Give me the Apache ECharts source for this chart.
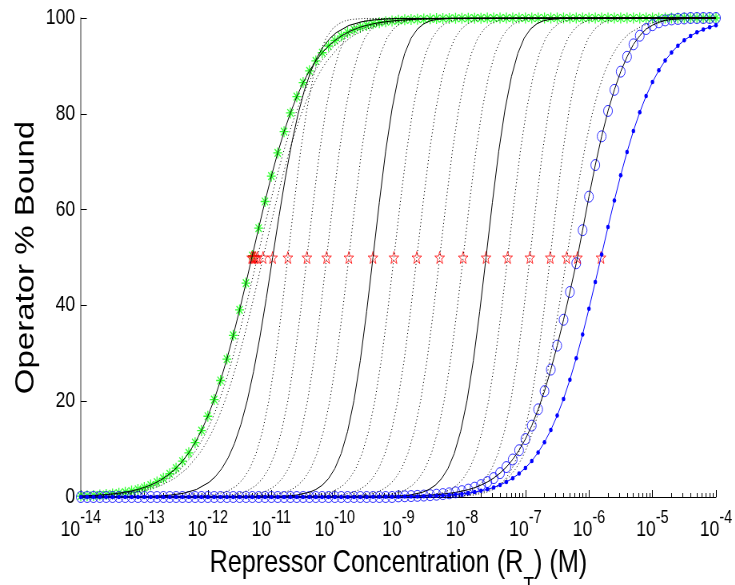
<!DOCTYPE html>
<html><head><meta charset="utf-8">
<script src="https://cdn.jsdelivr.net/npm/echarts@6/dist/echarts.min.js"></script>
<style>
html,body{margin:0;padding:0;overflow:hidden;background:#fff;width:735px;height:585px}
#c{width:919px;height:585px;transform:scaleX(0.8);transform-origin:0 0}
</style>
</head><body><div id="c"></div>
<script>
// log10 of repressor concentration for the marker series (0.1 decade steps)
const gridExp = [-14.0,-13.9,-13.8,-13.7,-13.6,-13.5,-13.4,-13.3,-13.2,-13.1,
-13.0,-12.9,-12.8,-12.7,-12.6,-12.5,-12.4,-12.3,-12.2,-12.1,
-12.0,-11.9,-11.8,-11.7,-11.6,-11.5,-11.4,-11.3,-11.2,-11.1,
-11.0,-10.9,-10.8,-10.7,-10.6,-10.5,-10.4,-10.3,-10.2,-10.1,
-10.0,-9.9,-9.8,-9.7,-9.6,-9.5,-9.4,-9.3,-9.2,-9.1,
-9.0,-8.9,-8.8,-8.7,-8.6,-8.5,-8.4,-8.3,-8.2,-8.1,
-8.0,-7.9,-7.8,-7.7,-7.6,-7.5,-7.4,-7.3,-7.2,-7.1,
-7.0,-6.9,-6.8,-6.7,-6.6,-6.5,-6.4,-6.3,-6.2,-6.1,
-6.0,-5.9,-5.8,-5.7,-5.6,-5.5,-5.4,-5.3,-5.2,-5.1,
-5.0,-4.9,-4.8,-4.7,-4.6,-4.5,-4.4,-4.3,-4.2,-4.1,
-4.0];
// green stars (% bound)
const greenY = [0.20,0.25,0.32,0.40,0.51,0.64,0.80,1.01,1.26,1.58,
1.99,2.49,3.11,3.89,4.85,6.02,7.47,9.22,11.34,13.87,
16.86,20.34,24.32,28.80,33.75,39.06,44.66,50.40,56.12,61.69,
66.98,71.84,76.27,80.18,83.58,86.51,88.97,91.04,92.75,94.15,
95.30,96.23,96.98,97.59,98.08,98.46,98.78,99.03,99.22,99.38,
99.51,99.61,99.69,99.75,99.80,99.84,99.88,99.90,99.92,99.94,
99.95,99.96,99.97,99.97,99.98,99.98,99.99,99.99,99.99,100,
100,100,100,100,100,100,100,100,100,100,
100,100,100,100,100,100,100,100,100,100,
100,100,100,100,100,100,100,100,100,100,
100];
// blue circles
const circleY = [0,0,0,0,0,0,0,0,0,0,
0,0,0,0,0,0,0,0,0,0,
0,0,0,0,0,0,0,0,0,0,
0,0,0,0,0,0,0,0,0,0,
0,0,0,0,0,0,0,0,0,0,
0.12,0.15,0.19,0.24,0.30,0.38,0.48,0.61,0.77,0.97,
1.22,1.54,1.95,2.48,3.13,3.95,4.98,6.25,7.83,9.76,
12.1,14.9,18.3,22.1,26.6,31.6,37.0,42.8,48.8,55.7,
62.7,69.3,75.3,80.6,85.0,88.8,91.9,94.5,96.3,97.7,
98.5,99.1,99.5,99.7,99.8,99.9,100,100,100,100,
100];
// blue dots
const dotsY = [0,0,0,0,0,0,0,0,0,0,
0,0,0,0,0,0,0,0,0,0,
0,0,0,0,0,0,0,0,0,0,
0,0,0,0,0,0,0,0,0,0,
0,0,0,0,0,0.02,0.03,0.03,0.04,0.05,
0.07,0.08,0.10,0.13,0.16,0.20,0.26,0.32,0.41,0.51,
0.64,0.81,1.02,1.28,1.60,2.00,2.51,3.14,3.92,4.89,
6.08,7.53,9.30,11.44,13.99,16.99,20.48,24.49,28.99,33.95,
39.29,44.90,50.63,56.36,61.92,67.17,72.03,76.43,80.33,83.72,
86.62,89.07,91.12,92.81,94.21,95.34,96.26,97.01,97.61,98.09,
98.48];

// % bound values of the black curves (shared by curves of the same steepness)
const shallowY = [0,0.25,0.40,0.63,0.99,1.56,2.45,3.83,5.93,9.09,11.18,13.68,16.63,20.08,24.03,28.47,33.39,38.69,44.27,50,55.73,61.31,66.61,71.53,75.97,79.92,83.37,86.32,88.82,90.91,94.07,96.17,97.55,98.44,99.01,99.37,99.60,99.75,99.87,100];
const mediumY = [0,0.10,0.20,0.40,0.79,1.56,3.07,4.28,5.94,8.18,11.18,15.10,20.08,26.18,33.39,41.44,50,58.56,66.61,73.82,79.92,84.90,88.82,91.82,94.06,95.72,96.93,98.44,99.21,99.60,99.80,99.90,100];
const steepY = [0,0.16,0.40,0.99,1.56,2.45,3.83,5.94,9.09,13.68,20.08,28.47,38.69,50,61.5,72.2,81.0,87.8,92.6,95.8,97.7,98.8,99.4,99.7,99.9,100];

// log10 concentrations of each black curve
const dotA = [-14,-13.82,-13.62,-13.42,-13.22,-13.02,-12.82,-12.62,-12.42,-12.22,-12.12,-12.02,-11.92,-11.82,-11.72,-11.62,-11.52,-11.42,-11.32,-11.22,-11.12,-11.02,-10.92,-10.82,-10.72,-10.62,-10.52,-10.42,-10.32,-10.22,-10.02,-9.82,-9.62,-9.42,-9.22,-9.02,-8.82,-8.62,-8.32,-4];
const dotB = [-14,-13.73,-13.53,-13.33,-13.13,-12.93,-12.73,-12.53,-12.33,-12.13,-12.03,-11.93,-11.83,-11.73,-11.63,-11.53,-11.43,-11.33,-11.23,-11.13,-11.03,-10.93,-10.83,-10.73,-10.63,-10.53,-10.43,-10.33,-10.23,-10.13,-9.93,-9.73,-9.53,-9.33,-9.13,-8.93,-8.73,-8.53,-8.23,-4];
const solidC = [-14,-12.98,-12.78,-12.58,-12.38,-12.18,-11.98,-11.88,-11.78,-11.68,-11.58,-11.48,-11.38,-11.28,-11.18,-11.08,-10.98,-10.88,-10.78,-10.68,-10.58,-10.48,-10.38,-10.28,-10.18,-10.08,-9.98,-9.78,-9.58,-9.38,-9.18,-8.98,-4];
const dotD = [-14,-12.14,-11.94,-11.74,-11.64,-11.54,-11.44,-11.34,-11.24,-11.14,-11.04,-10.94,-10.84,-10.74,-10.64,-10.54,-10.44,-10.34,-10.24,-10.14,-10.04,-9.94,-9.84,-9.74,-9.54,-4];
const dotE = [-14,-11.84,-11.64,-11.44,-11.34,-11.24,-11.14,-11.04,-10.94,-10.84,-10.74,-10.64,-10.54,-10.44,-10.34,-10.24,-10.14,-10.04,-9.94,-9.84,-9.74,-9.64,-9.54,-9.44,-9.24,-4];
const dotF = [-14,-11.53,-11.33,-11.13,-11.03,-10.93,-10.83,-10.73,-10.63,-10.53,-10.43,-10.33,-10.23,-10.13,-10.03,-9.93,-9.83,-9.73,-9.63,-9.53,-9.43,-9.33,-9.23,-9.13,-8.93,-4];
const dotG = [-14,-11.18,-10.98,-10.78,-10.68,-10.58,-10.48,-10.38,-10.28,-10.18,-10.08,-9.98,-9.88,-9.78,-9.68,-9.58,-9.48,-9.38,-9.28,-9.18,-9.08,-8.98,-8.88,-8.78,-8.58,-4];
const solidH = [-14,-10.80,-10.60,-10.40,-10.30,-10.20,-10.10,-10.00,-9.90,-9.80,-9.70,-9.60,-9.50,-9.40,-9.30,-9.20,-9.10,-9.00,-8.90,-8.80,-8.70,-8.60,-8.50,-8.40,-8.20,-4];
const dotI = [-14,-10.47,-10.27,-10.07,-9.97,-9.87,-9.77,-9.67,-9.57,-9.47,-9.37,-9.27,-9.17,-9.07,-8.97,-8.87,-8.77,-8.67,-8.57,-8.47,-8.37,-8.27,-8.17,-8.07,-7.87,-4];
const dotJ = [-14,-10.11,-9.91,-9.71,-9.61,-9.51,-9.41,-9.31,-9.21,-9.11,-9.01,-8.91,-8.81,-8.71,-8.61,-8.51,-8.41,-8.31,-8.21,-8.11,-8.01,-7.91,-7.81,-7.71,-7.51,-4];
const dotK = [-14,-9.75,-9.55,-9.35,-9.25,-9.15,-9.05,-8.95,-8.85,-8.75,-8.65,-8.55,-8.45,-8.35,-8.25,-8.15,-8.05,-7.95,-7.85,-7.75,-7.65,-7.55,-7.45,-7.35,-7.15,-4];
const dotL = [-14,-9.38,-9.18,-8.98,-8.88,-8.78,-8.68,-8.58,-8.48,-8.38,-8.28,-8.18,-8.08,-7.98,-7.88,-7.78,-7.68,-7.58,-7.48,-7.38,-7.28,-7.18,-7.08,-6.98,-6.78,-4];
const solidM = [-14,-9.02,-8.82,-8.62,-8.52,-8.42,-8.32,-8.22,-8.12,-8.02,-7.92,-7.82,-7.72,-7.62,-7.52,-7.42,-7.32,-7.22,-7.12,-7.02,-6.92,-6.82,-6.72,-6.62,-6.42,-4];
const dotN = [-14,-8.68,-8.48,-8.28,-8.18,-8.08,-7.98,-7.88,-7.78,-7.68,-7.58,-7.48,-7.38,-7.28,-7.18,-7.08,-6.98,-6.88,-6.78,-6.68,-6.58,-6.48,-6.38,-6.28,-6.08,-4];
const dotO = [-14,-8.33,-8.13,-7.93,-7.83,-7.73,-7.63,-7.53,-7.43,-7.33,-7.23,-7.13,-7.03,-6.93,-6.83,-6.73,-6.63,-6.53,-6.43,-6.33,-6.23,-6.13,-6.03,-5.93,-5.73,-4];
const dotP = [-14,-8.01,-7.81,-7.61,-7.51,-7.41,-7.31,-7.21,-7.11,-7.01,-6.91,-6.81,-6.71,-6.61,-6.51,-6.41,-6.31,-6.21,-6.11,-6.01,-5.91,-5.81,-5.71,-5.61,-5.41,-4];
const dotQ = [-14,-8.35,-8.15,-7.95,-7.75,-7.55,-7.35,-7.25,-7.15,-7.05,-6.95,-6.85,-6.75,-6.65,-6.55,-6.45,-6.35,-6.25,-6.15,-6.05,-5.95,-5.85,-5.75,-5.65,-5.55,-5.45,-5.35,-5.15,-4.95,-4.75,-4.55,-4.35,-4];

// red stars: half-saturation points
const starExp = [-11.31,-11.29,-11.27,-11.25,-11.22,-11.13,-10.98,-10.74,-10.44,-10.13,-9.78,-9.40,-9.07,-8.71,-8.35,-7.98,-7.62,-7.28,-6.93,-6.61,-6.35,-6.18,-5.81];
const starY = [50,50,50,50,50,50,50,50,50,50,50,50,50,50,50,50,50,50,50,50,50,50,50];

// axis ticks
const xMajorExp = [-14,-13,-12,-11,-10,-9,-8,-7,-6,-5,-4];
const minorMant = [2,3,4,5,6,7,8,9];
const yTicks = [0,20,40,60,80,100];

const toPts = (xs, ys) => xs.map((e, i) => [Math.pow(10, e), ys[i]]);
const majors = xMajorExp.map(e => Math.pow(10, e));
const minors = [];
xMajorExp.slice(0, -1).forEach(e => minorMant.forEach(m => minors.push(m * Math.pow(10, e))));

const FONT = "'Liberation Sans',Arial,Helvetica,sans-serif";
const ASTER = 'path://M10,0L10,20M0,10L20,10M3,3L17,17M3,17L17,3';
const STAR = 'path://M10,0L12.35,6.91L19.51,6.91L13.8,11.18L15.88,18.09L10,13.82L4.12,18.09L6.2,11.18L0.49,6.91L7.65,6.91Z';

const dottedCurves = [[dotA, shallowY],[dotB, shallowY],[dotD, steepY],[dotE, steepY],[dotF, steepY],[dotG, steepY],[dotI, steepY],[dotJ, steepY],[dotK, steepY],[dotL, steepY],[dotN, steepY],[dotO, steepY],[dotP, steepY],[dotQ, mediumY]];
const solidCurves = [[gridExp, greenY],[solidC, mediumY],[solidH, steepY],[solidM, steepY],[gridExp, circleY]];

const series = [];
dottedCurves.forEach(([xs, ys]) => series.push({
  type: 'line', data: toPts(xs, ys), symbol: 'none', showSymbol: false, clip: false, silent: true,
  lineStyle: {color: '#000', width: 1, type: [1, 2.5]}
}));
solidCurves.forEach(([xs, ys]) => series.push({
  type: 'line', data: toPts(xs, ys), symbol: 'none', showSymbol: false, clip: false, silent: true,
  lineStyle: {color: '#000', width: 1}
}));
series.push({type: 'scatter', data: toPts(gridExp, greenY), symbol: ASTER, symbolSize: 11, clip: false, silent: true,
  itemStyle: {color: 'rgba(0,0,0,0)', borderColor: '#00ff00', borderWidth: 1.3}});
series.push({type: 'scatter', data: toPts(gridExp, circleY), symbol: 'circle', symbolSize: 11, clip: false, silent: true,
  itemStyle: {color: 'rgba(0,0,0,0)', borderColor: '#0000ff', borderWidth: 1}});
series.push({type: 'line', data: toPts(gridExp, dotsY), symbol: 'circle', symbolSize: 4.5, showSymbol: true, clip: false, silent: true,
  itemStyle: {color: '#0000ff'}, lineStyle: {color: '#0000ff', width: 1}});
series.push({type: 'scatter', data: toPts(starExp, starY), symbol: STAR, symbolSize: 12, clip: false, silent: true,
  itemStyle: {color: 'rgba(0,0,0,0)', borderColor: '#ff0000', borderWidth: 1}});

const gridPos = {left: 101, right: 24, top: 18, bottom: 88, containLabel: false, outerBoundsMode: 'none'};
const chart = echarts.init(document.getElementById('c'));
chart.setOption({
  animation: false,
  backgroundColor: '#fff',
  grid: [Object.assign({}, gridPos), Object.assign({}, gridPos)],
  xAxis: [{
    type: 'log', logBase: 10, min: 1e-14, max: 1e-4, gridIndex: 0,
    axisLine: {lineStyle: {color: '#000', width: 1}},
    axisTick: {inside: true, length: 7, customValues: majors, lineStyle: {color: '#000'}},
    axisLabel: {
      customValues: majors, margin: 21, color: '#000',
      formatter: function (v) {
        let e = v > 0 ? Math.round(Math.log10(v)) : Math.round(v);
        return '{b|10}{s|' + e + '}';
      },
      rich: {
        b: {fontSize: 22, fontFamily: FONT, lineHeight: 24, color: '#000'},
        s: {fontSize: 18, fontFamily: FONT, lineHeight: 18, padding: [0, 0, 24, 0], color: '#000'}
      }
    },
    splitLine: {show: false}, minorTick: {show: false},
    name: 'Repressor Concentration (R{sub|T}) (M)', nameLocation: 'middle', nameGap: 50, nameMoveOverlap: false,
    nameTextStyle: {fontSize: 31.5, fontFamily: FONT, color: '#000', lineHeight: 32,
      rich: {sub: {fontSize: 22, fontFamily: FONT, lineHeight: 22, padding: [45, 0, 0, 0], color: '#000'}}}
  }, {
    type: 'log', logBase: 10, min: 1e-14, max: 1e-4, gridIndex: 1,
    axisLine: {show: false},
    axisTick: {inside: true, length: 4, customValues: minors, lineStyle: {color: '#000'}},
    axisLabel: {show: false}, splitLine: {show: false}
  }],
  yAxis: [{
    type: 'value', min: 0, max: 100, interval: 20, gridIndex: 0,
    axisLine: {show: true, lineStyle: {color: '#777', width: 1.5}},
    axisTick: {show: true, inside: true, length: 7.5, lineStyle: {color: '#000'}},
    axisLabel: {fontSize: 22, fontFamily: FONT, color: '#000', margin: 7},
    splitLine: {show: false},
    name: 'Operator % Bound', nameLocation: 'middle', nameGap: 52, nameMoveOverlap: false,
    nameTextStyle: {fontSize: 33, fontFamily: FONT, color: '#000'}
  }, {
    type: 'value', min: 0, max: 100, gridIndex: 1, show: false
  }],
  series: series
});
</script>
</body></html>
